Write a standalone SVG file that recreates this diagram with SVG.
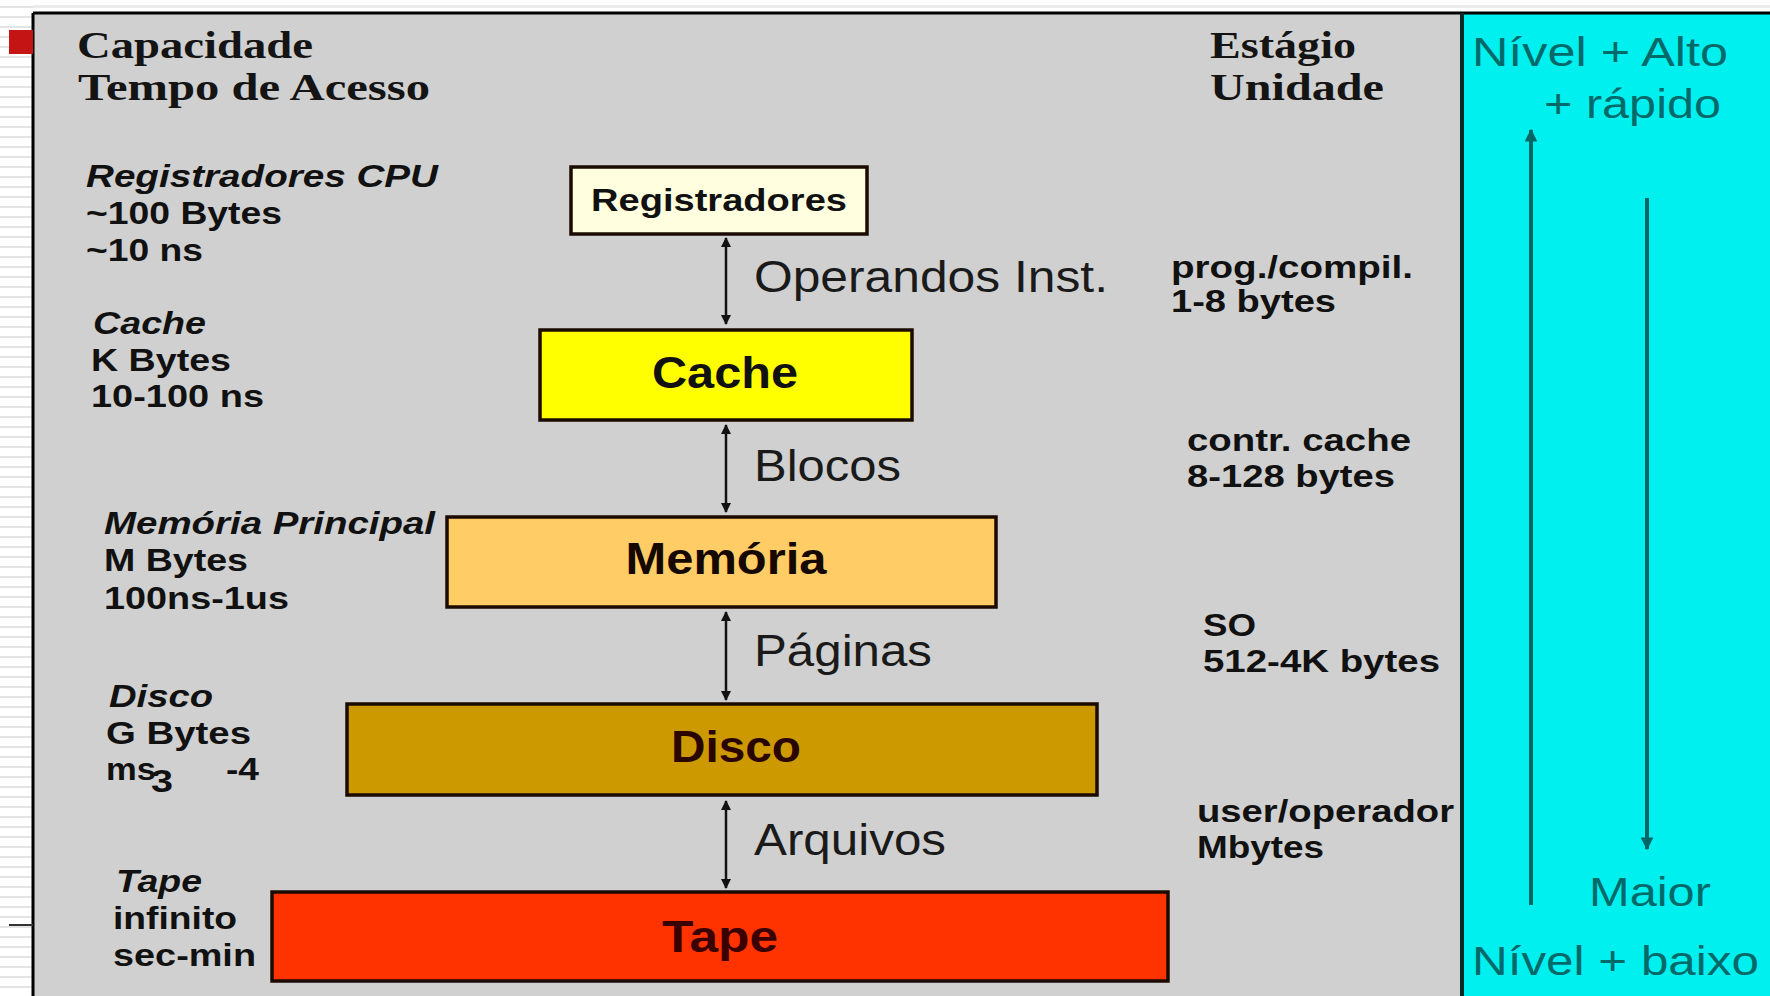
<svg xmlns="http://www.w3.org/2000/svg" width="1770" height="996" viewBox="0 0 1770 996">
<defs>
<pattern id="stripes" x="0" y="0" width="10" height="10" patternUnits="userSpaceOnUse">
<rect width="10" height="10" fill="#ffffff"/>
<rect y="6" width="10" height="2" fill="#e4e4e4"/>
</pattern>
<marker id="ah" viewBox="0 0 10 10" refX="9" refY="5" markerWidth="4" markerHeight="4" orient="auto-start-reverse" markerUnits="strokeWidth">
<path d="M0,0 L10,5 L0,10 z" fill="#111"/>
</marker>
<marker id="ahc" viewBox="0 0 10 10" refX="9" refY="5" markerWidth="3.2" markerHeight="3.2" orient="auto-start-reverse" markerUnits="strokeWidth">
<path d="M0,0 L10,5 L0,10 z" fill="#006666"/>
</marker>
</defs>
<style>
.hdr{font-family:"Liberation Serif","Times New Roman",serif;font-weight:bold;font-size:38px;fill:#141414}
.lbl{font-family:"Liberation Sans",Arial,sans-serif;font-weight:bold;font-size:32px;fill:#111}
.it{font-style:italic}
.conn{font-family:"Liberation Sans",Arial,sans-serif;font-size:44px;fill:#1a1a1a}
.box{stroke:#1a0a00;stroke-width:3.5}
.btxt{font-family:"Liberation Sans",Arial,sans-serif;font-weight:bold;text-anchor:middle}
.cy{font-family:"Liberation Sans",Arial,sans-serif;font-size:40px;fill:#006a6a}
.line{stroke:#111;stroke-width:2.5;fill:none}
.cline{stroke:#006666;stroke-width:4;fill:none}
</style>

<!-- background -->
<rect x="0" y="0" width="1770" height="996" fill="#ffffff"/>
<rect x="0" y="0" width="33" height="996" fill="url(#stripes)"/>
<rect x="33" y="5" width="1737" height="3" fill="#ececec"/>
<rect x="33" y="13" width="1737" height="983" fill="#d0d0d0"/>
<rect x="1462" y="13" width="308" height="983" fill="#00f0f0"/>
<line x1="33" y1="13" x2="1770" y2="13" stroke="#000" stroke-width="3"/>
<line x1="33" y1="13" x2="33" y2="996" stroke="#000" stroke-width="3"/>
<line x1="1462" y1="13" x2="1462" y2="996" stroke="#0a2a2a" stroke-width="4"/>
<rect x="9" y="30" width="24" height="24" fill="#c41414"/>
<line x1="9" y1="925" x2="33" y2="925" stroke="#333" stroke-width="2"/>

<!-- headers -->
<g id="headers">
<text class="hdr" x="77" y="58" textLength="236" lengthAdjust="spacingAndGlyphs">Capacidade</text>
<text class="hdr" x="78" y="100" textLength="352" lengthAdjust="spacingAndGlyphs">Tempo de Acesso</text>
<text class="hdr" x="1210" y="58" textLength="146" lengthAdjust="spacingAndGlyphs">Estágio</text>
<text class="hdr" x="1210" y="100" textLength="174" lengthAdjust="spacingAndGlyphs">Unidade</text>
</g>

<!-- left column -->
<g id="left-labels">
<text class="lbl it" x="86" y="187" textLength="352" lengthAdjust="spacingAndGlyphs">Registradores CPU</text>
<text class="lbl" x="86" y="224" textLength="196" lengthAdjust="spacingAndGlyphs">~100 Bytes</text>
<text class="lbl" x="86" y="261" textLength="117" lengthAdjust="spacingAndGlyphs">~10 ns</text>
<text class="lbl it" x="93" y="334" textLength="113" lengthAdjust="spacingAndGlyphs">Cache</text>
<text class="lbl" x="91" y="371" textLength="140" lengthAdjust="spacingAndGlyphs">K Bytes</text>
<text class="lbl" x="91" y="407" textLength="173" lengthAdjust="spacingAndGlyphs">10-100 ns</text>
<text class="lbl it" x="104" y="534" textLength="331" lengthAdjust="spacingAndGlyphs">Memória Principal</text>
<text class="lbl" x="104" y="571" textLength="144" lengthAdjust="spacingAndGlyphs">M Bytes</text>
<text class="lbl" x="104" y="609" textLength="185" lengthAdjust="spacingAndGlyphs">100ns-1us</text>
<text class="lbl it" x="109" y="707" textLength="104" lengthAdjust="spacingAndGlyphs">Disco</text>
<text class="lbl" x="106" y="744" textLength="145" lengthAdjust="spacingAndGlyphs">G Bytes</text>
<text class="lbl" x="106" y="780" textLength="50" lengthAdjust="spacingAndGlyphs">ms</text>
<text class="lbl" x="151" y="792" font-size="26" textLength="22" lengthAdjust="spacingAndGlyphs">3</text>
<text class="lbl" x="226" y="780" textLength="33" lengthAdjust="spacingAndGlyphs">-4</text>
<text class="lbl it" x="116" y="892" textLength="86" lengthAdjust="spacingAndGlyphs">Tape</text>
<text class="lbl" x="113" y="929" textLength="124" lengthAdjust="spacingAndGlyphs">infinito</text>
<text class="lbl" x="113" y="966" textLength="143" lengthAdjust="spacingAndGlyphs">sec-min</text>
</g>

<!-- right column -->
<g id="right-labels">
<text class="lbl" x="1171" y="278" textLength="242" lengthAdjust="spacingAndGlyphs">prog./compil.</text>
<text class="lbl" x="1171" y="312" textLength="165" lengthAdjust="spacingAndGlyphs">1-8 bytes</text>
<text class="lbl" x="1187" y="451" textLength="224" lengthAdjust="spacingAndGlyphs">contr. cache</text>
<text class="lbl" x="1187" y="487" textLength="208" lengthAdjust="spacingAndGlyphs">8-128 bytes</text>
<text class="lbl" x="1203" y="636" textLength="53" lengthAdjust="spacingAndGlyphs">SO</text>
<text class="lbl" x="1203" y="672" textLength="237" lengthAdjust="spacingAndGlyphs">512-4K bytes</text>
<text class="lbl" x="1197" y="822" textLength="257" lengthAdjust="spacingAndGlyphs">user/operador</text>
<text class="lbl" x="1197" y="858" textLength="127" lengthAdjust="spacingAndGlyphs">Mbytes</text>
</g>

<!-- nodes -->
<g id="node-registradores">
<rect class="box" x="571" y="167" width="296" height="67" fill="#ffffe0"/>
<text class="btxt" x="719" y="211" font-size="32" fill="#111" textLength="256" lengthAdjust="spacingAndGlyphs">Registradores</text>
</g>
<g id="node-cache">
<rect class="box" x="540" y="330" width="372" height="90" fill="#ffff00"/>
<text class="btxt" x="725" y="388" font-size="44" fill="#111" textLength="146" lengthAdjust="spacingAndGlyphs">Cache</text>
</g>
<g id="node-memoria">
<rect class="box" x="447" y="517" width="549" height="90" fill="#ffcc66"/>
<text class="btxt" x="726" y="574" font-size="44" fill="#140800" textLength="201" lengthAdjust="spacingAndGlyphs">Memória</text>
</g>
<g id="node-disco">
<rect class="box" x="347" y="704" width="750" height="91" fill="#cc9900"/>
<text class="btxt" x="736" y="762" font-size="44" fill="#2a0500" textLength="130" lengthAdjust="spacingAndGlyphs">Disco</text>
</g>
<g id="node-tape">
<rect class="box" x="272" y="892" width="896" height="89" fill="#ff3300"/>
<text class="btxt" x="720" y="952" font-size="44" fill="#3a0000" textLength="116" lengthAdjust="spacingAndGlyphs">Tape</text>
</g>

<!-- connectors -->
<g id="connectors">
<line class="line" x1="726" y1="238" x2="726" y2="324" marker-start="url(#ah)" marker-end="url(#ah)"/>
<line class="line" x1="726" y1="425" x2="726" y2="512" marker-start="url(#ah)" marker-end="url(#ah)"/>
<line class="line" x1="726" y1="612" x2="726" y2="700" marker-start="url(#ah)" marker-end="url(#ah)"/>
<line class="line" x1="726" y1="801" x2="726" y2="888" marker-start="url(#ah)" marker-end="url(#ah)"/>
<text class="conn" x="754" y="292" textLength="354" lengthAdjust="spacingAndGlyphs">Operandos Inst.</text>
<text class="conn" x="754" y="481" textLength="147" lengthAdjust="spacingAndGlyphs">Blocos</text>
<text class="conn" x="754" y="666" textLength="178" lengthAdjust="spacingAndGlyphs">Páginas</text>
<text class="conn" x="754" y="855" textLength="192" lengthAdjust="spacingAndGlyphs">Arquivos</text>
<line class="cline" x1="1531" y1="905" x2="1531" y2="130" marker-end="url(#ahc)"/>
<line class="cline" x1="1647" y1="198" x2="1647" y2="849" marker-end="url(#ahc)"/>
</g>

<!-- cyan panel texts -->
<g id="levels">
<text class="cy" x="1472" y="66" textLength="256" lengthAdjust="spacingAndGlyphs">Nível + Alto</text>
<text class="cy" x="1544" y="118" textLength="177" lengthAdjust="spacingAndGlyphs">+ rápido</text>
<text class="cy" x="1589" y="906" textLength="122" lengthAdjust="spacingAndGlyphs">Maior</text>
<text class="cy" x="1472" y="975" textLength="287" lengthAdjust="spacingAndGlyphs">Nível + baixo</text>
</g>
</svg>
